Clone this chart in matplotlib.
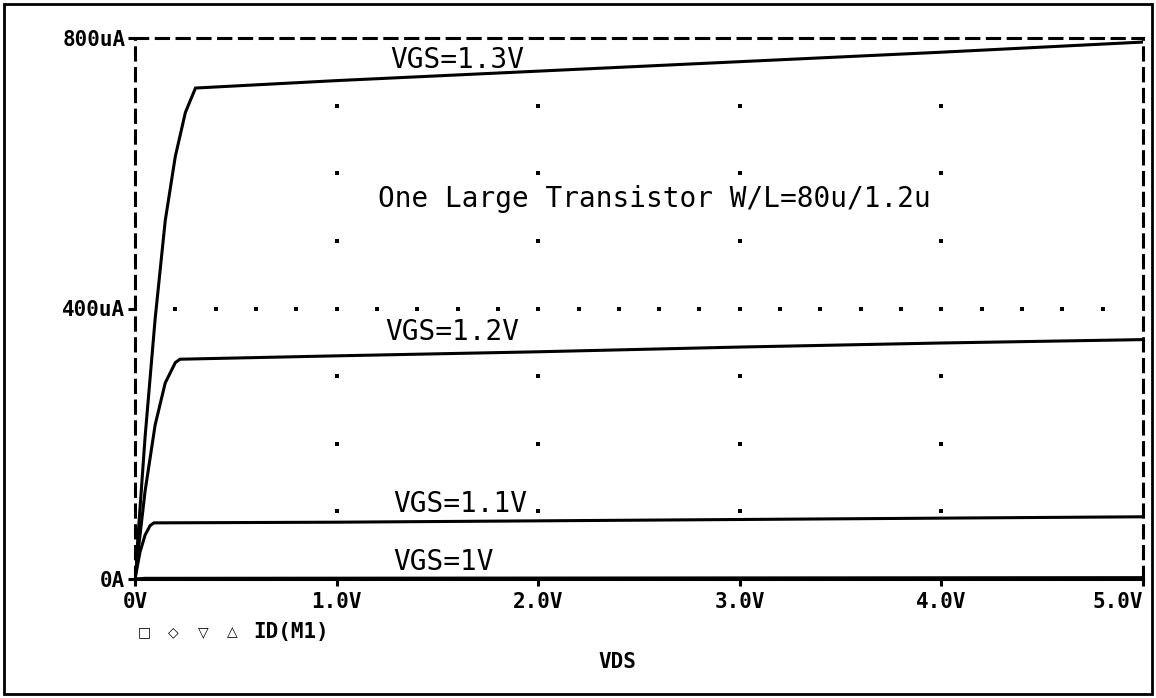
import matplotlib
matplotlib.use("Agg")
import matplotlib.pyplot as plt
from matplotlib.patches import Rectangle

# drain current curves, VDS in V, ID in uA
vds_13 = [0, 0.05, 0.1, 0.15, 0.2, 0.25, 0.3, 1.0, 2.0, 3.0, 4.0, 5.0]
id_13 = [0, 210, 385, 530, 625, 690, 726, 737, 751, 765, 779, 794]

vds_12 = [0, 0.05, 0.1, 0.15, 0.2, 0.223, 1.0, 2.0, 3.0, 4.0, 5.0]
id_12 = [0, 130, 228, 290, 320, 325, 330, 336, 343, 349, 354]

vds_11 = [0, 0.025, 0.05, 0.075, 0.094, 1.0, 2.0, 3.0, 4.0, 5.0]
id_11 = [0, 40, 65, 79, 83, 84, 86, 88, 90, 92]

vds_10 = [0, 0.05, 5.0]
id_10 = [0, 1, 2]

xticks = [0, 1, 2, 3, 4, 5]
xlabels = ["0V", "1.0V", "2.0V", "3.0V", "4.0V", "5.0V"]
yticks = [0, 400, 800]
ylabels = ["0A", "400uA", "800uA"]

curve_labels = ["VGS=1.3V", "VGS=1.2V", "VGS=1.1V", "VGS=1V"]
label_x = [1.265, 1.24, 1.28, 1.28]
label_y = [756, 354, 99, 13]

legend_syms = ["□", "◇", "▽", "△"]
legend_px = [144, 173, 203, 232]

MONO = "DejaVu Sans Mono"

fig = plt.figure(figsize=(11.56, 6.98), dpi=100)
ax = fig.add_axes([135/1156, 1-579/698, (1143-135)/1156, (579-38)/698])

for x, y in [(vds_13, id_13), (vds_12, id_12), (vds_11, id_11), (vds_10, id_10)]:
    ax.plot(x, y, color="black", lw=2.2, solid_joinstyle="miter")

# dotted grid like the old probe window
row_x = [0.2 * i for i in range(1, 25)]
ax.plot(row_x, [400] * len(row_x), ls="none", marker="s", ms=2.4,
        mew=0, color="black")
gx, gy = [], []
for yv in [100, 200, 300, 500, 600, 700]:
    for xv in [1, 2, 3, 4]:
        gx.append(xv)
        gy.append(yv)
ax.plot(gx, gy, ls="none", marker="s", ms=2.4, mew=0, color="black")

ax.set_xlim(0, 5)
ax.set_ylim(0, 800)

for side in ["left", "top", "right"]:
    ax.spines[side].set_linestyle((0, (4, 2.8)))
    ax.spines[side].set_linewidth(2.2)
ax.spines["bottom"].set_linewidth(2.2)

ax.set_xticks(xticks)
ax.set_xticklabels(xlabels, family=MONO, weight="bold", fontsize=15)
ax.set_yticks(yticks)
ax.set_yticklabels(ylabels, family=MONO, weight="bold", fontsize=15)
ax.tick_params(axis="both", direction="out", length=5, width=2.2, pad=4)
ax.tick_params(axis="y", pad=2)
ax.get_xticklabels()[-1].set_horizontalalignment("right")

for t, x, y in zip(curve_labels, label_x, label_y):
    ax.text(x, y, t, family=MONO, fontsize=20, va="baseline", ha="left")
ax.text(1.205, 550, "One Large Transistor W/L=80u/1.2u", family=MONO,
        fontsize=20, va="baseline", ha="left")

# probe legend + x axis name
for s, px in zip(legend_syms, legend_px):
    fig.text(px/1156, 1-632/698, s, family="DejaVu Sans", weight="bold",
             fontsize=10, va="center", ha="center")
fig.text(253/1156, 1-632/698, "ID(M1)", family=MONO, weight="bold",
         fontsize=15, va="center", ha="left")
fig.text(617/1156, 1-662/698, "VDS", family=MONO, weight="bold",
         fontsize=15, va="center", ha="center")

fig.add_artist(Rectangle((4/1156, 4/698), 1148/1156, 690/698, fill=False,
                         lw=2, edgecolor="black", transform=fig.transFigure))

fig.savefig("out.png", dpi=100)
